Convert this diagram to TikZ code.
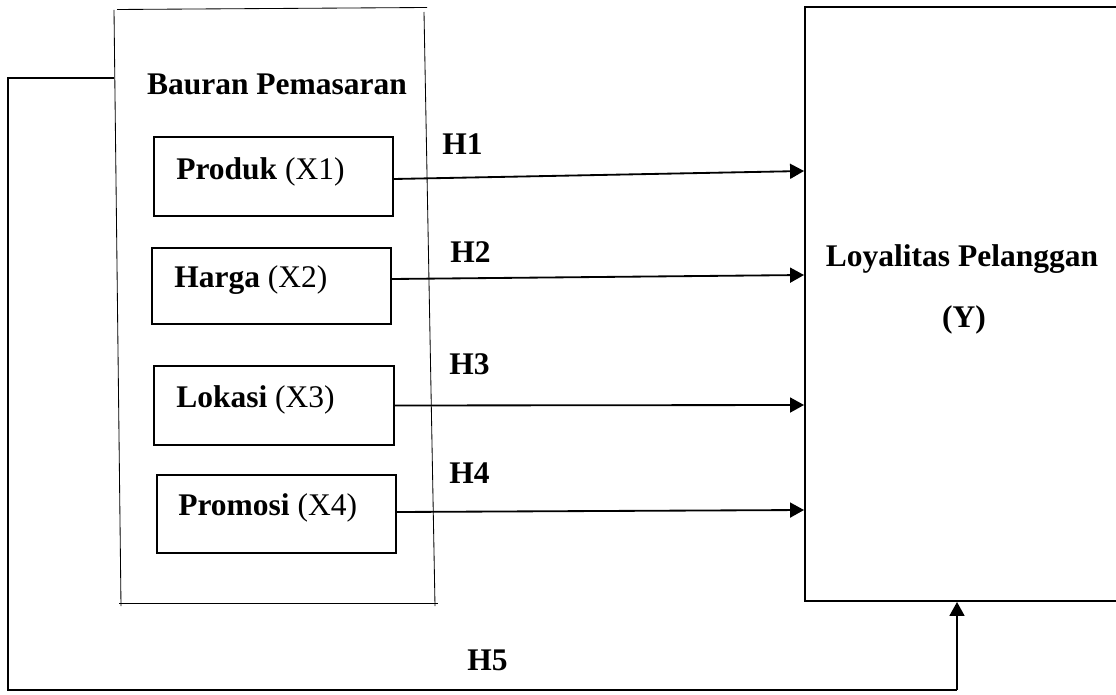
\documentclass[tikz,border=0pt]{standalone}
\usepackage{fontspec}
\setmainfont{Liberation Serif}
\usetikzlibrary{arrows.meta, positioning, calc}
\newcommand{\pxl}{0.025cm}
\tikzset{
  varbox/.style={draw, line width=1.3pt, minimum width=239*\pxl, minimum height=78*\pxl, inner sep=0pt},
  bigbox/.style={draw, line width=1.4pt, inner sep=0pt},
  lbl/.style={font=\fontsize{22.4}{27}\selectfont, inner sep=0pt},
  hlbl/.style={font=\fontsize{22.4}{27}\selectfont\bfseries, inner sep=0pt},
  arr/.style={-{Triangle[length=9.9pt,width=10.6pt]}, line width=1.3pt},
  thinline/.style={line width=0.6pt},
  fbline/.style={line width=0.9pt}
}

\begin{document}
\begin{tikzpicture}[x=0.025cm, y=-0.025cm]
  \useasboundingbox (0,0) rectangle (1116,695);

  % Bauran Pemasaran
  \draw[thinline] (114,10) -- (121,606);
  \draw[thinline] (117,9.5) -- (427,7.5);
  \draw[thinline] (424,12) -- (435,606);
  \draw[thinline] (119,603) -- (438,603);
  \coordinate (bauranW) at (114,78);
  \node[hlbl, anchor=base] (bauran) at (277,95) {Bauran Pemasaran};

  % Variabel X
  \node[varbox, minimum height=79*\pxl] (produk) at (273.5,176.5) {};
  \node[lbl, anchor=base west] (produktxt) at (176,180) {\textbf{Produk} (X1)};
  \node[varbox, minimum height=76*\pxl] (harga) at (271.5,286) {};
  \node[lbl, anchor=base west] (hargatxt) at (174,287) {\textbf{Harga} (X2)};
  \node[varbox, minimum height=79*\pxl, minimum width=240*\pxl] (lokasi) at (274,405.5) {};
  \node[lbl, anchor=base west] (lokasitxt) at (176,407) {\textbf{Lokasi} (X3)};
  \node[varbox] (promosi) at (276.5,514) {};
  \node[lbl, anchor=base west] (promositxt) at (178,515) {\textbf{Promosi} (X4)};

  % Loyalitas Pelanggan
  \node[bigbox, minimum width=325*\pxl, minimum height=594*\pxl] (loyal) at (967.5,304) {};
  \node[hlbl, anchor=base] (loyaltxt) at (962,267) {Loyalitas Pelanggan};
  \node[hlbl, anchor=base] (ytxt) at (964,327) {(Y)};

  % Hipotesis H1 - H4
  \draw[arr] ([yshift=-2.5*\pxl]produk.east) -- (loyal.west |- 0,171);
  \draw[arr] ([yshift=7*\pxl]harga.east) -- (loyal.west |- 0,275);
  \draw[arr] (lokasi.east) -- (loyal.west |- 0,405);
  \draw[arr] ([yshift=2*\pxl]promosi.east) -- (loyal.west |- 0,510);
  \node[hlbl, anchor=base west] (h1) at (442,155) {H1};
  \node[hlbl, anchor=base west] (h2) at (450,263) {H2};
  \node[hlbl, anchor=base west] (h3) at (449,374) {H3};
  \node[hlbl, anchor=base west] (h4) at (449,483) {H4};

  % Hipotesis H5
  \coordinate (fbcorner) at (8,690);
  \coordinate (fbend) at (957,690);
  \draw[fbline] (bauranW) -| (fbcorner) -- (fbend);
  \draw[arr] (fbend) -- (fbend |- loyal.south);
  \node[hlbl, anchor=base west] (h5) at (467,670) {H5};
\end{tikzpicture}
\end{document}
